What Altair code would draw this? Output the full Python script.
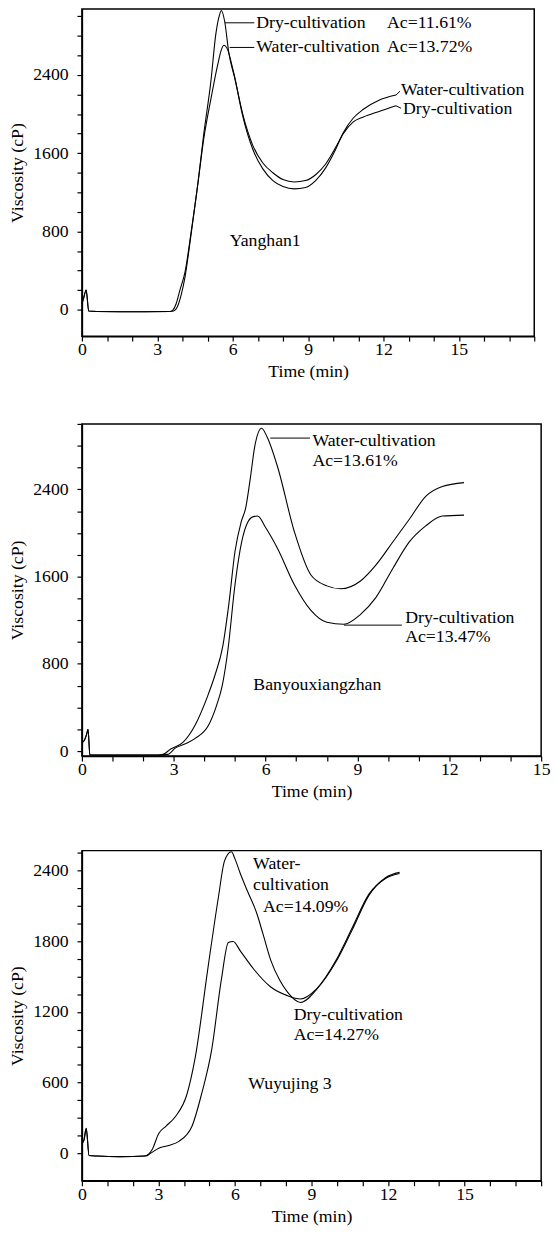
import altair as alt
import pandas as pd

FONT = "Liberation Serif"
FS = 18

# ---------------- Panel 1: Yanghan1 ----------------
P1_DRY_T = [0.0, 0.06, 0.17, 0.27, 0.6, 1.5, 2.5, 3.5, 3.62, 3.75, 3.9, 4.1, 4.35, 4.62, 4.85, 5.13, 5.33,
            5.47, 5.55, 5.68, 5.85, 6.07, 6.4, 6.8, 7.2, 7.6, 8.0, 8.45, 8.9, 9.3, 9.7, 10.1, 10.4, 10.8,
            11.2, 11.8, 12.5]
P1_DRY_V = [60, 110, 200, -15, -20, -22, -22, -20, -5, 60, 200, 380, 800, 1300, 1800, 2330, 2820,
            3010, 3060, 2950, 2620, 2380, 2000, 1680, 1500, 1400, 1330, 1306, 1320, 1380, 1490, 1660, 1800, 1920,
            1970, 2025, 2085]
P1_WAT_T = [0.0, 0.06, 0.17, 0.27, 0.6, 1.5, 2.5, 3.5, 3.65, 3.8, 3.95, 4.1, 4.35, 4.62, 4.85, 5.13, 5.4,
            5.55, 5.65, 5.8, 5.95, 6.07, 6.4, 6.8, 7.2, 7.6, 8.0, 8.45, 8.9, 9.3, 9.7, 10.1, 10.4, 10.8,
            11.2, 11.8, 12.5]
P1_WAT_V = [60, 110, 200, -15, -20, -22, -22, -20, -15, 30, 150, 330, 780, 1300, 1750, 2150, 2500,
            2660, 2705, 2660, 2520, 2390, 1980, 1640, 1440, 1320, 1260, 1235, 1250, 1320, 1450, 1640, 1810, 1960,
            2050, 2140, 2195]
P1_TEXT = ["Dry-cultivation", "Ac=11.61%", "Water-cultivation", "Ac=13.72%",
           "Water-cultivation", "Dry-cultivation", "Yanghan1"]
P1_TEXT_T = [6.94, 12.14, 6.94, 12.14, 12.7, 12.78, 5.88]
P1_TEXT_V = [2934, 2934, 2682, 2682, 2249, 2047, 706]
P1_LEAD_T = [5.69, 5.88, 12.5, 12.5]
P1_LEAD_T2 = [6.86, 6.86, 12.66, 12.7]
P1_LEAD_V = [2934, 2682, 2195, 2085]
P1_LEAD_V2 = [2934, 2682, 2235, 2060]

# ---------------- Panel 2: Banyouxiangzhan ----------------
P2_WAT_T = [0.0, 0.08, 0.15, 0.2, 0.26, 0.5, 1.5, 2.5, 2.65, 2.9, 3.3, 3.7, 4.1, 4.35, 4.6, 4.8, 5.0, 5.2,
            5.35, 5.5, 5.65, 5.87, 6.05, 6.39, 6.94, 7.48, 8.0, 8.45, 9.1, 9.6, 10.16, 10.7, 11.23, 11.77, 12.48]
P2_WAT_V = [80, 100, 150, 200, -35, -35, -35, -35, -30, 20, 80, 240, 500, 700, 960, 1350, 1830, 2100,
            2230, 2500, 2800, 2960, 2880, 2607, 2011, 1615, 1515, 1488, 1560, 1705, 1920, 2128, 2336, 2426, 2462]
P2_DRY_T = [0.0, 0.08, 0.15, 0.2, 0.26, 0.5, 1.5, 2.5, 2.8, 3.06, 3.4, 3.7, 4.13, 4.4, 4.58, 4.77, 5.0, 5.22,
            5.42, 5.6, 5.74, 6.0, 6.39, 6.94, 7.48, 8.0, 8.55, 9.1, 9.6, 10.16, 10.7, 11.23, 11.77, 12.48]
P2_DRY_V = [80, 100, 150, 200, -35, -35, -35, -35, -30, 30, 70, 117, 234, 420, 595, 929, 1525, 1920,
            2100, 2150, 2155, 2050, 1858, 1525, 1290, 1181, 1163, 1254, 1407, 1677, 1920, 2065, 2155, 2164]
P2_TEXT = ["Water-cultivation", "Ac=13.61%", "Dry-cultivation", "Ac=13.47%", "Banyouxiangzhan"]
P2_TEXT_T = [7.53, 7.53, 10.56, 10.56, 5.6]
P2_TEXT_V = [2843, 2662, 1218, 1047, 605]
P2_LEAD_T = [6.15, 8.56]
P2_LEAD_T2 = [7.45, 10.45]
P2_LEAD_V = [2870, 1155]
P2_LEAD_V2 = [2870, 1155]

# ---------------- Panel 3: Wuyujing 3 ----------------
P3_WAT_T = [0.0, 0.08, 0.17, 0.28, 0.6, 1.5, 2.45, 2.76, 3.01, 3.3, 3.66, 4.12, 4.44, 4.95, 5.35, 5.59, 5.86,
            6.0, 6.2, 6.5, 6.85, 7.1, 7.4, 7.75, 8.05, 8.57, 9.2, 9.97, 10.6, 11.25, 11.9, 12.45]
P3_WAT_V = [80, 110, 210, -20, -25, -30, -25, 33, 167, 230, 309, 502, 811, 1589, 2174, 2483, 2560,
            2500, 2380, 2220, 2040, 1860, 1640, 1470, 1370, 1280, 1392, 1642, 1917, 2200, 2333, 2375]
P3_DRY_T = [0.0, 0.08, 0.17, 0.28, 0.6, 1.5, 2.5, 2.7, 3.01, 3.4, 3.8, 4.31, 4.69, 5.08, 5.47, 5.74, 5.93,
            6.22, 6.73, 7.39, 8.05, 8.57, 9.2, 9.97, 10.6, 11.25, 11.9, 12.45]
P3_DRY_V = [80, 110, 210, -20, -25, -30, -25, 0, 42, 65, 100, 226, 502, 870, 1480, 1789, 1798,
            1714, 1564, 1413, 1338, 1310, 1396, 1630, 1900, 2190, 2340, 2385]
P3_TEXT = ["Water-", "cultivation", "Ac=14.09%", "Dry-cultivation", "Ac=14.27%", "Wuyujing 3"]
P3_TEXT_T = [6.71, 6.71, 7.1, 8.3, 8.3, 6.52]
P3_TEXT_V = [2458, 2274, 2090, 1171, 1003, 585]


def lines_df(dt, dv, wt, wv):
    a = pd.DataFrame({"t": dt, "v": dv, "series": "Dry-cultivation"})
    b = pd.DataFrame({"t": wt, "v": wv, "series": "Water-cultivation"})
    return pd.concat([a, b], ignore_index=True)


def panel(ldf, tdf, lead, xdom, ydom, w, h, xmax_tick, ystep_label, ystep_tick, ytop_tick):
    xvals = list(range(0, xmax_tick + 1))
    yvals = list(range(0, ytop_tick + 1, ystep_tick))
    x = alt.X("t:Q", scale=alt.Scale(domain=xdom, nice=False, zero=False),
              axis=alt.Axis(values=xvals, tickCount=100, title="Time (min)", format="d",
                            labelOverlap=False, labelPadding=0, titlePadding=4,
                            labelExpr="datum.value % 3 === 0 && datum.value <= 15 ? datum.label : ''"))
    y = alt.Y("v:Q", scale=alt.Scale(domain=ydom, nice=False, zero=False),
              axis=alt.Axis(values=yvals, tickCount=100, title="Viscosity (cP)", format="d",
                            labelOverlap=False, labelPadding=9, titlePadding=6,
                            labelExpr=f"datum.value % {ystep_label} === 0 ? datum.label : ''"))
    line = alt.Chart(ldf).mark_line(color="black", strokeWidth=1.1, interpolate="monotone").encode(
        x=x, y=y, detail="series:N")
    text = alt.Chart(tdf).mark_text(font=FONT, fontSize=FS, align="left", baseline="middle",
                                    color="black").encode(x="t:Q", y="v:Q", text="label:N")
    layers = [line, text]
    if lead is not None:
        rule = alt.Chart(lead).mark_rule(color="black", strokeWidth=1).encode(
            x="t:Q", x2="t2:Q", y="v:Q", y2="v2:Q")
        layers.append(rule)
    return alt.layer(*layers).properties(width=w, height=h)


p1 = panel(lines_df(P1_DRY_T, P1_DRY_V, P1_WAT_T, P1_WAT_V),
           pd.DataFrame({"t": P1_TEXT_T, "v": P1_TEXT_V, "label": P1_TEXT}),
           pd.DataFrame({"t": P1_LEAD_T, "t2": P1_LEAD_T2, "v": P1_LEAD_V, "v2": P1_LEAD_V2}),
           [0, 18], [-272, 3075], 459, 332, 18, 800, 200, 3000)
p2 = panel(lines_df(P2_DRY_T, P2_DRY_V, P2_WAT_T, P2_WAT_V),
           pd.DataFrame({"t": P2_TEXT_T, "v": P2_TEXT_V, "label": P2_TEXT}),
           pd.DataFrame({"t": P2_LEAD_T, "t2": P2_LEAD_T2, "v": P2_LEAD_V, "v2": P2_LEAD_V2}),
           [0, 15], [-45, 3000], 466, 337, 15, 800, 200, 3000)
p3 = panel(lines_df(P3_DRY_T, P3_DRY_V, P3_WAT_T, P3_WAT_V),
           pd.DataFrame({"t": P3_TEXT_T, "v": P3_TEXT_V, "label": P3_TEXT}),
           None,
           [0, 18], [-235, 2570], 466, 335, 18, 600, 150, 2550)

chart = alt.vconcat(alt.vconcat(p1, p2, spacing=33), p3, spacing=42).properties(
    padding={"left": 0, "top": -11, "right": 0, "bottom": 0}
).configure_view(stroke="black", strokeWidth=1.5).configure_axis(
    grid=False, domainColor="black", domainWidth=1.5, tickColor="black", tickWidth=1.2, tickSize=5,
    labelColor="black", labelFont=FONT, labelFontSize=FS, labelFlush=False, labelOverlap=False,
    titleColor="black", titleFont=FONT, titleFontSize=18, titleFontWeight="normal"
)

chart.save("out.html", embed_options={"renderer": "svg", "actions": False})
